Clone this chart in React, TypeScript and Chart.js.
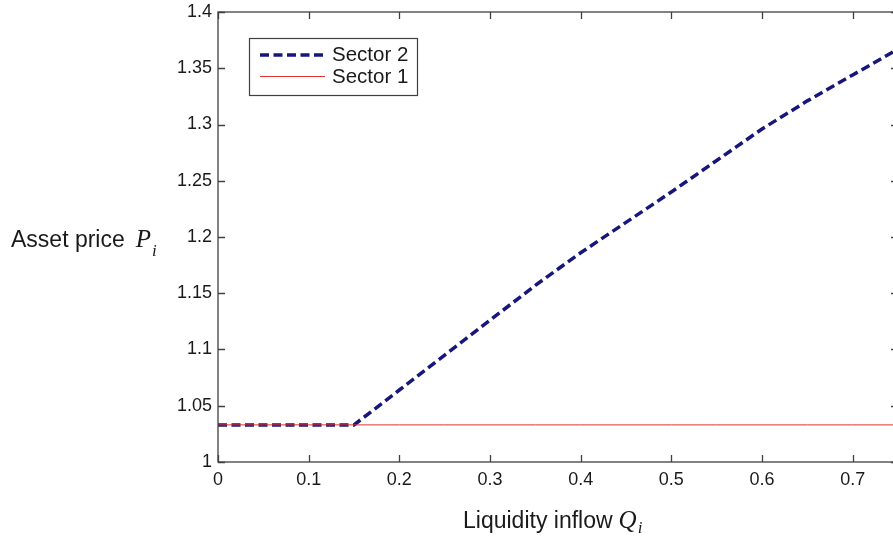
import React, { useEffect, useRef } from "react";
import { Chart, registerables } from "chart.js";

Chart.register(...registerables);

const inflow = [0, 0.05, 0.1, 0.15, 0.2, 0.25, 0.3, 0.35, 0.4, 0.45, 0.5, 0.55, 0.6, 0.65, 0.7, 0.75];
const sector2 = [1.033, 1.033, 1.033, 1.033, 1.064, 1.095, 1.126, 1.157, 1.186, 1.213, 1.24, 1.268, 1.296, 1.321, 1.344, 1.367];
const sector1 = [1.033, 1.033, 1.033, 1.033, 1.033, 1.033, 1.033, 1.033, 1.033, 1.033, 1.033, 1.033, 1.033, 1.033, 1.033, 1.033];
const legendLabels = ["Sector 2", "Sector 1"];
const xTitle = "Liquidity inflow";
const yTitle = "Asset price";

const BLUE = "#16167c";
const RED = "#dd3333";
const FRAME = "#404040";
const TEXT = "#1a1a1a";
const SANS = "'Liberation Sans', Arial, sans-serif";
const SERIF = "'Liberation Serif', 'DejaVu Serif', serif";

const framePlugin = {
  id: "matlabFrame",
  afterDraw(chart: any) {
    const { ctx, chartArea } = chart;
    const { left, right, top, bottom } = chartArea;
    const xs = chart.scales.x;
    const ys = chart.scales.y;
    ctx.save();
    ctx.strokeStyle = FRAME;
    ctx.lineWidth = 1.3;
    ctx.strokeRect(left, top, right - left, bottom - top);
    const tl = 7;
    ctx.beginPath();
    xs.ticks.forEach((t: any) => {
      const px = Math.round(xs.getPixelForValue(t.value)) + 0.5;
      ctx.moveTo(px, bottom);
      ctx.lineTo(px, bottom - tl);
      ctx.moveTo(px, top);
      ctx.lineTo(px, top + tl);
    });
    ys.ticks.forEach((t: any) => {
      const py = Math.round(ys.getPixelForValue(t.value)) + 0.5;
      ctx.moveTo(left, py);
      ctx.lineTo(left + tl, py);
      ctx.moveTo(right, py);
      ctx.lineTo(right - tl, py);
    });
    ctx.stroke();

    // legend
    const bx = 249, by = 38, bw = 168, bh = 57;
    ctx.fillStyle = "#ffffff";
    ctx.fillRect(bx, by, bw, bh);
    ctx.strokeStyle = FRAME;
    ctx.lineWidth = 1.2;
    ctx.strokeRect(bx + 0.5, by + 0.5, bw, bh);
    const ds2 = chart.data.datasets[1];
    const ds1 = chart.data.datasets[0];
    ctx.beginPath();
    ctx.strokeStyle = ds2.borderColor;
    ctx.lineWidth = ds2.borderWidth;
    ctx.setLineDash(ds2.borderDash);
    ctx.moveTo(260, 55);
    ctx.lineTo(325, 55);
    ctx.stroke();
    ctx.setLineDash([]);
    ctx.beginPath();
    ctx.strokeStyle = ds1.borderColor;
    ctx.lineWidth = ds1.borderWidth;
    ctx.moveTo(260, 76.5);
    ctx.lineTo(325, 76.5);
    ctx.stroke();
    ctx.fillStyle = TEXT;
    ctx.font = `20.5px ${SANS}`;
    ctx.textAlign = "left";
    ctx.textBaseline = "middle";
    ctx.fillText(legendLabels[0], 332, 55);
    ctx.fillText(legendLabels[1], 332, 77);

    // axis titles
    ctx.textBaseline = "alphabetic";
    ctx.font = `23px ${SANS}`;
    ctx.fillText(yTitle, 11, 247);
    const yw = ctx.measureText(yTitle).width;
    ctx.font = `italic 25px ${SERIF}`;
    ctx.fillText("P", 11 + yw + 11, 247);
    const pw = ctx.measureText("P").width;
    ctx.font = `italic 17px ${SERIF}`;
    ctx.fillText("i", 11 + yw + 11 + pw + 1, 256);

    ctx.font = `23px ${SANS}`;
    ctx.fillText(xTitle, 463, 528);
    const xw = ctx.measureText(xTitle).width;
    ctx.font = `italic 25px ${SERIF}`;
    ctx.fillText("Q", 463 + xw + 6, 528);
    const qw = ctx.measureText("Q").width;
    ctx.font = `italic 17px ${SERIF}`;
    ctx.fillText("i", 463 + xw + 6 + qw + 1, 533);
    ctx.restore();
  },
};

export default function App() {
  const ref = useRef<HTMLCanvasElement>(null);
  useEffect(() => {
    if (!ref.current) return;
    const chart = new Chart(ref.current, {
      type: "scatter",
      data: {
        datasets: [
          {
            label: legendLabels[1],
            data: inflow.map((x, i) => ({ x, y: sector1[i] })),
            showLine: true,
            borderColor: RED,
            borderWidth: 1,
            pointRadius: 0,
            fill: false,
          },
          {
            label: legendLabels[0],
            data: inflow.map((x, i) => ({ x, y: sector2[i] })),
            showLine: true,
            borderColor: BLUE,
            borderWidth: 3.5,
            borderDash: [9, 4.5],
            pointRadius: 0,
            fill: false,
          },
        ],
      },
      options: {
        animation: false,
        responsive: false,
        layout: { padding: { left: 138, top: 12, right: 14, bottom: 0 } },
        plugins: { legend: { display: false }, tooltip: { enabled: false } },
        scales: {
          x: {
            type: "linear",
            min: 0,
            max: 0.75,
            grid: { display: false, drawTicks: false },
            border: { display: false },
            afterFit: (s: any) => { s.height = 82; s.paddingLeft = 0; s.paddingRight = 0; },
            ticks: {
              stepSize: 0.1,
              includeBounds: false,
              padding: 7,
              color: TEXT,
              font: { family: SANS, size: 18 },
              maxRotation: 0,
              callback: (v: any) => String(Number(Number(v).toFixed(2))),
            },
          },
          y: {
            type: "linear",
            min: 1,
            max: 1.4,
            grid: { display: false, drawTicks: false },
            border: { display: false },
            afterFit: (s: any) => { s.width = 80; s.paddingTop = 0; s.paddingBottom = 0; },
            ticks: {
              stepSize: 0.05,
              padding: 6,
              color: TEXT,
              font: { family: SANS, size: 18 },
              callback: (v: any) => String(Number(Number(v).toFixed(2))),
            },
          },
        },
      },
      plugins: [framePlugin],
    });
    return () => chart.destroy();
  }, []);
  return (
    <div style={{ position: "fixed", left: 0, top: 0, width: 893, height: 544, overflow: "hidden", background: "#fff" }}>
      <canvas ref={ref} width={912} height={544} style={{ width: 912, height: 544, display: "block" }} />
    </div>
  );
}
